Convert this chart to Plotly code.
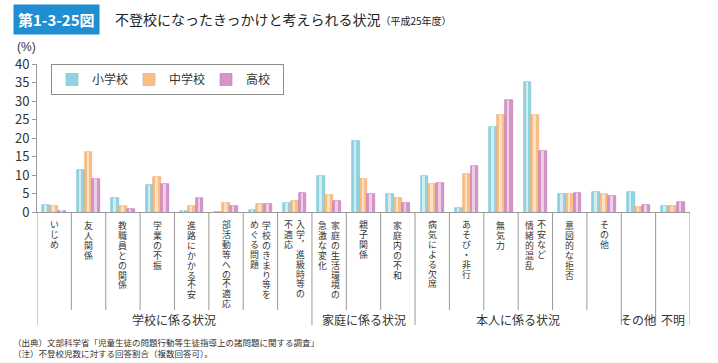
import plotly.graph_objects as go

# ---------------- data ----------------
categories = ["いじめ", "友人関係", "教職員との関係", "学業の不振", "進路にかかる不安",
              "部活動等への不適応", "学校のきまり等をめぐる問題", "入学，進級時等の不適応",
              "家庭の生活環境の急激な変化", "親子関係", "家庭内の不和",
              "病気による欠席", "あそび・非行", "無気力", "不安など情緒的混乱",
              "意図的な拒否", "その他", "その他", "不明"]
# vertical label columns (right column first, as in vertical Japanese writing)
label_columns = [["いじめ"], ["友人関係"], ["教職員との関係"], ["学業の不振"], ["進路にかかる不安"],
                 ["部活動等への不適応"], ["学校のきまり等を", "めぐる問題"], ["入学︐進級時等の", "不適応"],
                 ["家庭の生活環境の", "急激な変化"], ["親子関係"], ["家庭内の不和"],
                 ["病気による欠席"], ["あそび・非行"], ["無気力"], ["不安など", "情緒的混乱"],
                 ["意図的な拒否"], ["その他"], [], []]
groups = ["学校に係る状況", "家庭に係る状況", "本人に係る状況", "その他", "不明"]
group_spans = [(0, 7), (8, 10), (11, 16), (17, 17), (18, 18)]
series_names = ["小学校", "中学校", "高校"]
elementary = [1.8, 11.3, 3.9, 7.2, 0.4, 0.0, 0.6, 2.3, 9.7, 19.2, 4.9, 9.7, 1.2, 23.0, 35.2, 4.8, 5.3, 5.3, 1.5]
junior_high = [1.7, 16.1, 1.7, 9.4, 1.7, 2.3, 2.1, 3.1, 4.6, 9.0, 3.7, 7.6, 10.4, 26.2, 26.2, 4.8, 4.8, 1.4, 1.5]
high_school = [0.3, 8.9, 0.8, 7.7, 3.7, 1.5, 2.1, 5.2, 3.1, 4.8, 2.3, 7.9, 12.4, 30.2, 16.5, 5.1, 4.2, 2.0, 2.8]
y_ticks = [0, 5, 10, 15, 20, 25, 30, 35, 40]

# ---------------- styling ----------------
FONT = "Noto Sans CJK JP"
LABEL_FONT = "Liberation Serif, Noto Sans CJK JP"
W, H = 718, 363
L, R, T, B = 37, 28, 64, 151
PW, PH = W - L - R, H - T - B
ZERO_Y = T + PH


def paper_y(pix):
    return (ZERO_Y - pix) / PH


def paper_x(pix):
    return (pix - L) / PW


main_colors = ["#93d3e0", "#f9bf88", "#d595c9"]
line_colors = ["#6fc1d2", "#f2a35f", "#c072b2"]
light_colors = ["#dcf2f6", "#fee6cf", "#f2d9ed"]
bar_w = 0.227
offsets = [-1.5 * bar_w, -0.5 * bar_w, 0.5 * bar_w]

x_idx = list(range(len(categories)))
fig = go.Figure()
for k, (name, vals) in enumerate(zip(series_names, [elementary, junior_high, high_school])):
    fig.add_trace(go.Bar(
        x=x_idx, y=vals, name=name, width=bar_w, offset=offsets[k],
        marker=dict(color=main_colors[k], line=dict(color=line_colors[k], width=0.6)),
        customdata=categories, hovertemplate="%{customdata}: %{y}%<extra>" + name + "</extra>",
    ))
for k, vals in enumerate([elementary, junior_high, high_school]):
    fig.add_trace(go.Bar(
        x=x_idx, y=vals, width=bar_w * 0.33, offset=offsets[k] + bar_w * 0.25,
        marker=dict(color=light_colors[k], line=dict(width=0)), opacity=0.85,
        showlegend=False, hoverinfo="skip",
    ))

annotations = []
# vertical category labels: one text per column, characters stacked with line breaks.
# Line spacing (1.3em) follows the small base size, glyphs use a larger span size.
char_step = 9.9
base_size = char_step / 1.3
glyph_size = 8.9
label_top = ZERO_Y + 6.5
for i, cols in enumerate(label_columns):
    n = len(cols)
    for j, col in enumerate(cols):
        dx = 0 if n == 1 else (0.18 if j == 0 else -0.18)
        txt = "<br>".join(f"<span style='font-size:{glyph_size}px'>{ch}</span>" for ch in col)
        annotations.append(dict(
            x=i + dx, y=paper_y(label_top), xref="x", yref="paper",
            text=txt, showarrow=False, xanchor="center", yanchor="top",
            borderpad=0, align="center",
            font=dict(family=LABEL_FONT, size=base_size, color="#333333"),
        ))

# group labels
for g, (a, b) in zip(groups, group_spans):
    annotations.append(dict(
        x=(a + b) / 2, y=paper_y(319), xref="x", yref="paper", text=g, showarrow=False,
        xanchor="center", yanchor="middle", font=dict(family=FONT, size=12, color="#333333"),
    ))

# title
annotations.append(dict(
    x=paper_x(13), y=paper_y(19), xref="paper", yref="paper", text="<b>第1-3-25図</b>",
    showarrow=False, xanchor="left", yanchor="middle", bgcolor="#1f8fd2", borderpad=4,
    font=dict(family=FONT, size=15, color="white"),
))
annotations.append(dict(
    x=paper_x(113), y=paper_y(19), xref="paper", yref="paper",
    text="不登校になったきっかけと考えられる状況<span style='font-size:10px'>（平成25年度）</span>",
    showarrow=False, xanchor="left", yanchor="middle",
    font=dict(family=FONT, size=14, color="#222222"),
))
# unit
annotations.append(dict(
    x=paper_x(26), y=paper_y(47), xref="paper", yref="paper", text="(%)", showarrow=False,
    xanchor="center", yanchor="middle", borderpad=0,
    font=dict(family="Liberation Sans", size=12, color="#333333"),
))
# footnotes
notes = ["（出典）文部科学省「児童生徒の問題行動等生徒指導上の諸問題に関する調査」",
         "（注）不登校児数に対する回答割合（複数回答可）。"]
for n_i, note in enumerate(notes):
    annotations.append(dict(
        x=paper_x(12), y=paper_y(342 + n_i * 10.5), xref="paper", yref="paper", text=note,
        showarrow=False, xanchor="left", yanchor="middle", borderpad=0,
        font=dict(family=FONT, size=8.5, color="#333333"),
    ))

# divider lines
shapes = []
group_bounds = {-0.5, 7.5, 10.5, 16.5, 17.5, 18.5}
for b in [i - 0.5 for i in range(len(categories) + 1)]:
    long = b in group_bounds
    shapes.append(dict(
        type="line", xref="x", yref="paper", x0=b, x1=b, y0=0,
        y1=paper_y(325 if long else 310), line=dict(color="#9a9a9a", width=1),
    ))

fig.update_layout(
    width=W, height=H, margin=dict(l=L, r=R, t=T, b=B),
    paper_bgcolor="white", plot_bgcolor="white",
    barmode="overlay", bargap=0,
    font=dict(family=FONT, size=12, color="#333333"),
    showlegend=True,
    legend=dict(orientation="h", x=paper_x(51), y=1.0, xanchor="left", yanchor="top",
                bordercolor="#8c8c8c", borderwidth=1, bgcolor="white",
                font=dict(family=FONT, size=12, color="#333333"),
                entrywidth=32, tracegroupgap=0),
    annotations=annotations, shapes=shapes,
)
fig.update_xaxes(range=[-0.5, 18.5], showticklabels=False, ticks="", showgrid=False,
                 zeroline=False, showline=True, linecolor="#9a9a9a", linewidth=1)
fig.update_yaxes(range=[0, 40], tickvals=y_ticks, ticks="outside", ticklen=4,
                 tickcolor="#9a9a9a", showgrid=False, zeroline=False, showline=True,
                 linecolor="#9a9a9a", linewidth=1,
                 tickfont=dict(family=FONT, size=13, color="#333333"))

fig.write_html("out.html", config={"displayModeBar": False},
               post_script="document.body.style.margin='0px';")
